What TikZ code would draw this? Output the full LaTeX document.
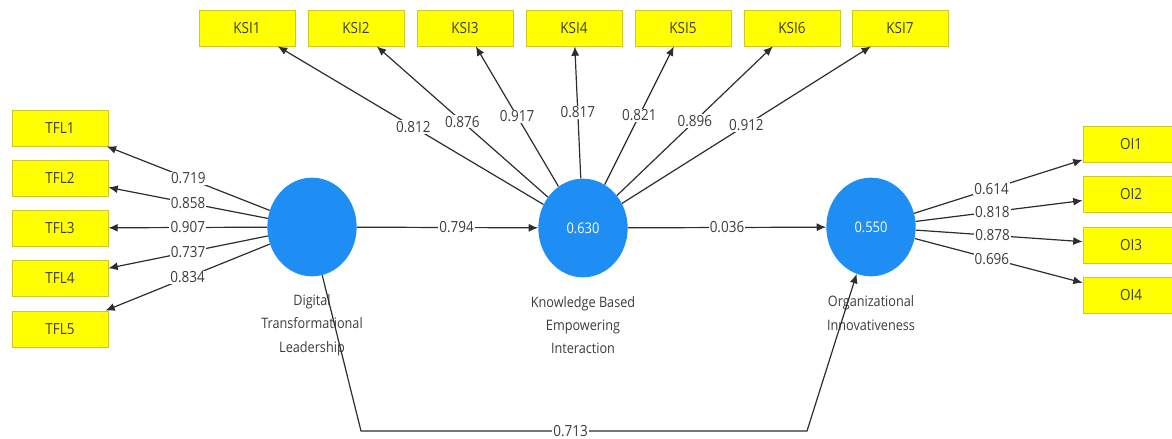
\documentclass[tikz,border=0pt]{standalone}
\usepackage{fontspec}
\setmainfont{Open Sans}[FakeStretch=0.88]
\usetikzlibrary{shapes.geometric,arrows.meta}
\definecolor{indyellow}{RGB}{255,255,0}
\definecolor{indborder}{RGB}{205,200,40}
\definecolor{lvblue}{RGB}{30,142,245}
\definecolor{linegray}{RGB}{45,45,45}
\definecolor{txtgray}{RGB}{60,60,60}

\begin{document}
\begin{tikzpicture}[x=0.75pt,y=-0.75pt,
  indicator/.style={draw=indborder, line width=0.6pt, fill=indyellow,
    minimum width=72pt, minimum height=27pt, inner sep=0pt,
    text=txtgray, font=\fontsize{11.5}{13}\selectfont},
  latent/.style={ellipse, fill=lvblue, minimum width=67pt, minimum height=74pt,
    inner sep=0pt, text=white, font=\fontsize{11}{13}\selectfont},
  conn/.style={draw=linegray, line width=0.9pt, -{Latex[length=7pt,width=6pt]}},
  coef/.style={fill=white, inner sep=0.8pt, text=txtgray,
    font=\fontsize{11.5}{13}\selectfont},
  lvname/.style={align=center, text=txtgray, font=\fontsize{10.8}{17.5}\selectfont}
]
\useasboundingbox (0,0) rectangle (1172,439);

% latent variables
\node[latent] (dtl)  at (312,227) {};
\node[latent] (kbei) at (583,228) {0.630};
\node[latent] (oi)   at (871,227) {0.550};

\node[lvname] (dtlname)  at (312,325) {Digital\\Transformational\\Leadership};
\node[lvname] (kbeiname) at (583,325) {Knowledge Based\\Empowering\\Interaction};
\node[lvname] (oiname)   at (871,313) {Organizational\\Innovativeness};

% indicators of Digital Transformational Leadership
\node[indicator] (tfl1) at (60,128) {TFL1};
\node[indicator] (tfl2) at (60,178) {TFL2};
\node[indicator] (tfl3) at (60,228) {TFL3};
\node[indicator] (tfl4) at (60,278) {TFL4};
\node[indicator] (tfl5) at (60,329) {TFL5};

% indicators of Knowledge Based Empowering Interaction
\node[indicator] (ksi1) at (247,28) {KSI1};
\node[indicator] (ksi2) at (356,28) {KSI2};
\node[indicator] (ksi3) at (465,28) {KSI3};
\node[indicator] (ksi4) at (574,28) {KSI4};
\node[indicator] (ksi5) at (683,28) {KSI5};
\node[indicator] (ksi6) at (792,28) {KSI6};
\node[indicator] (ksi7) at (900,28) {KSI7};

% indicators of Organizational Innovativeness
\node[indicator] (oi1) at (1131,144.5) {OI1};
\node[indicator] (oi2) at (1131,194.5) {OI2};
\node[indicator] (oi3) at (1131,245) {OI3};
\node[indicator] (oi4) at (1131,295.5) {OI4};

% outer loadings
\draw[conn] (dtl) -- node[coef,pos=0.5] {0.719} (tfl1);
\draw[conn] (dtl) -- node[coef,pos=0.5] {0.858} (tfl2);
\draw[conn] (dtl) -- node[coef,pos=0.5] {0.907} (tfl3);
\draw[conn] (dtl) -- node[coef,pos=0.5] {0.737} (tfl4);
\draw[conn] (dtl) -- node[coef,pos=0.5] {0.834} (tfl5);

\draw[conn] (kbei) -- node[coef,pos=0.49] {0.812} (ksi1);
\draw[conn] (kbei) -- node[coef,pos=0.5] {0.876} (ksi2);
\draw[conn] (kbei) -- node[coef,pos=0.5] {0.917} (ksi3);
\draw[conn] (kbei) -- node[coef,pos=0.5] {0.817} (ksi4);
\draw[conn] (kbei) -- node[coef,pos=0.5] {0.821} (ksi5);
\draw[conn] (kbei) -- node[coef,pos=0.5] {0.896} (ksi6);
\draw[conn] (kbei) -- node[coef,pos=0.5] {0.912} (ksi7);

\draw[conn] (oi) -- node[coef,pos=0.46] {0.614} (oi1);
\draw[conn] (oi) -- node[coef,pos=0.46] {0.818} (oi2);
\draw[conn] (oi) -- node[coef,pos=0.46] {0.878} (oi3);
\draw[conn] (oi) -- node[coef,pos=0.46] {0.696} (oi4);

% structural paths
\draw[conn] (dtl) -- node[coef,pos=0.55] {0.794} (kbei);
\draw[conn] (kbei) -- node[coef,pos=0.5] {0.036} (oi);

\coordinate (bl) at (361,431);
\coordinate (br) at (807,431);
\draw[conn] (dtl.-78) -- (bl) -- node[coef,pos=0.47] {0.713} (br) -- (oi.-107);

\end{tikzpicture}
\end{document}
